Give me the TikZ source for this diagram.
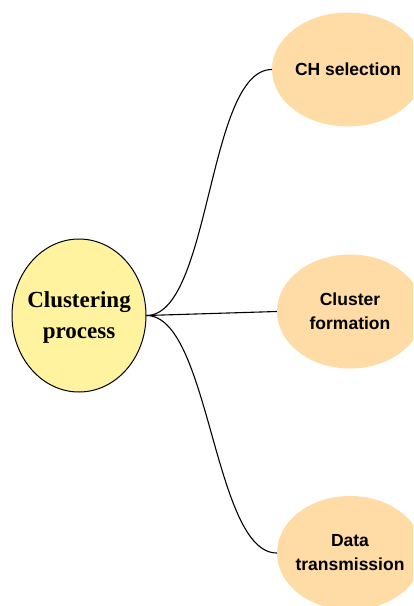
\documentclass[tikz,border=0pt]{standalone}
\usepackage{fontspec}
\setmainfont{Liberation Serif}
\newfontfamily\phasefont{Liberation Sans}
\usetikzlibrary{shapes.geometric}
\definecolor{procfill}{HTML}{FFF3A0}
\definecolor{phasefill}{HTML}{FFDBA6}
\tikzset{
  proc/.style={ellipse,draw=black,line width=1pt,fill=procfill,inner sep=0pt,
    minimum width=134pt,minimum height=153pt},
  phase/.style={ellipse,fill=phasefill,inner sep=0pt,
    minimum width=146pt,minimum height=114pt},
  proctext/.style={font=\bfseries\fontsize{23}{31}\selectfont,align=center},
  phasetext/.style={font=\phasefont\bfseries\fontsize{17.5}{24}\selectfont,align=center},
  link/.style={line width=1.1pt}
}
\begin{document}
\begin{tikzpicture}[x=1pt,y=-1pt]
  \clip (0,0) rectangle (413,606);
  \node[proc] (cp) at (79,315.5) {};
  \node[proctext] (cptext) at (79,317) {Clustering\\process};
  \node[phase,minimum width=152pt] (ch) at (348,69.5) {};
  \node[phase] (cf) at (350,311.5) {};
  \node[phase] (dt) at (350,553) {};
  \foreach \n/\t in {ch/CH selection,cf/Cluster\\formation,dt/Data\\transmission}{
    \node[phasetext] (\n text) at (\n) {\t};
  }
  \draw[link] (cp.east) to[out=0,in=180,looseness=0.6] (ch.west);
  \draw[link] (cp.east) -- (cf.west);
  \draw[link] (cp.east) to[out=0,in=180,looseness=0.6] (dt.west);
\end{tikzpicture}
\end{document}
